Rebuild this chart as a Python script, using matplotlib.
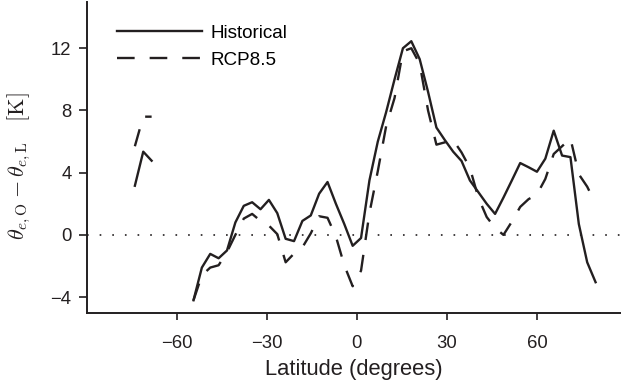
import numpy as np
import matplotlib
matplotlib.use('Agg')
import matplotlib.pyplot as plt

# latitudes of the model grid (degrees)
lat = [-73.95, -71.16, -68.37, -65.58, -62.79, -60.0, -57.21,
       -54.42, -51.63, -48.84, -46.05, -43.26, -40.47, -37.67, -34.88,
       -32.09, -29.30, -26.51, -23.72, -20.93, -18.14, -15.35, -12.56,
       -9.77, -6.98, -4.19, -1.395, 1.395, 4.19, 6.98, 9.77, 12.56,
       15.35, 18.14, 20.93, 23.72, 26.51, 29.30, 32.09, 34.88, 37.67,
       40.47, 43.26, 46.05, 48.84, 51.63, 54.42, 57.21, 60.0, 62.79,
       65.58, 68.37, 71.16, 73.95, 76.74, 79.53]

nan = np.nan
historical = [3.16, 5.35, 4.77, nan, nan, nan, nan,
              -4.2, -2.1, -1.22, -1.5, -1.0, 0.8, 1.87, 2.1,
              1.65, 2.25, 1.4, -0.25, -0.4, 0.9, 1.25, 2.65,
              3.4, 2.0, 0.7, -0.7, -0.2, 3.5, 6.0, 7.9, 10.0,
              12.0, 12.45, 11.3, 9.2, 6.9, 6.1, 5.35, 4.75, 3.5,
              2.75, 2.0, 1.35, 2.4, 3.5, 4.62, 4.35, 4.06, 4.9,
              6.7, 5.1, 5.0, 0.7, -1.76, -3.04]
rcp85 = [5.7, 7.6, 7.6, nan, nan, nan, nan,
         -4.2, -2.6, -2.1, -1.95, -1.1, 0.0, 1.05, 1.35,
         0.9, 0.6, 0.05, -1.76, -1.2, -0.8, 0.1, 1.2,
         1.1, -0.1, -1.95, -3.3, -2.3, 1.4, 4.1, 7.0, 8.8,
         11.8, 12.0, 11.0, 8.0, 5.8, 5.95, 6.1, 5.3, 4.3,
         2.4, 1.15, 0.45, 0.0, 0.85, 1.8, 2.3, 2.6, 3.6,
         5.2, 5.7, 6.2, 3.9, 3.1, 2.0]

xticks = [-60, -30, 0, 30, 60]
yticks = [-4, 0, 4, 8, 12]

ink = '#231f20'
plt.rcParams['font.family'] = ['Liberation Sans', 'DejaVu Sans']
plt.rcParams['mathtext.fontset'] = 'cm'
plt.rcParams['lines.scale_dashes'] = False

fig = plt.figure(figsize=(6.21, 3.87), dpi=100)
ax = fig.add_axes([0.1396, 0.192, 0.8604, 0.804])

ax.axhline(0, color=ink, lw=1.2, dashes=(1.2, 7.9))
ax.plot(lat, historical, color=ink, lw=1.7, label='Historical')
ax.plot(lat, rcp85, color=ink, lw=1.7, dashes=(12.7, 10.8), label='RCP8.5')

ax.set_xlim(-90, 88)
ax.set_ylim(-5, 15)
ax.set_xticks(xticks)
ax.set_yticks(yticks)
ax.set_xticklabels(['\u2212%d' % -t if t < 0 else '%d' % t for t in xticks])
ax.set_yticklabels(['\u2212%d' % -t if t < 0 else '%d' % t for t in yticks])

for s in ['top', 'right']:
    ax.spines[s].set_visible(False)
for s in ['left', 'bottom']:
    ax.spines[s].set_linewidth(1.4)
    ax.spines[s].set_color(ink)
ax.tick_params(axis='x', length=5, width=1.2, colors=ink, labelsize=13.3, pad=11)
ax.tick_params(axis='y', length=6, width=1.2, colors=ink, labelsize=13.3, pad=5)

ax.set_xlabel('Latitude (degrees)', fontsize=15.8, color=ink, labelpad=5)
ax.set_ylabel(r'$\theta_{e,\mathrm{O}}-\theta_{e,\mathrm{L}}\quad[\mathrm{K}]$',
              fontsize=16, color=ink, labelpad=8)
ax.yaxis.set_label_coords(-0.1, 0.47)

ax.legend(loc='upper left', bbox_to_anchor=(0.0567, 0.925), frameon=False,
          fontsize=13.6, borderaxespad=0, borderpad=0, handlelength=4.5,
          handletextpad=0.43, labelspacing=0.5)

fig.savefig('out.png', dpi=100)
